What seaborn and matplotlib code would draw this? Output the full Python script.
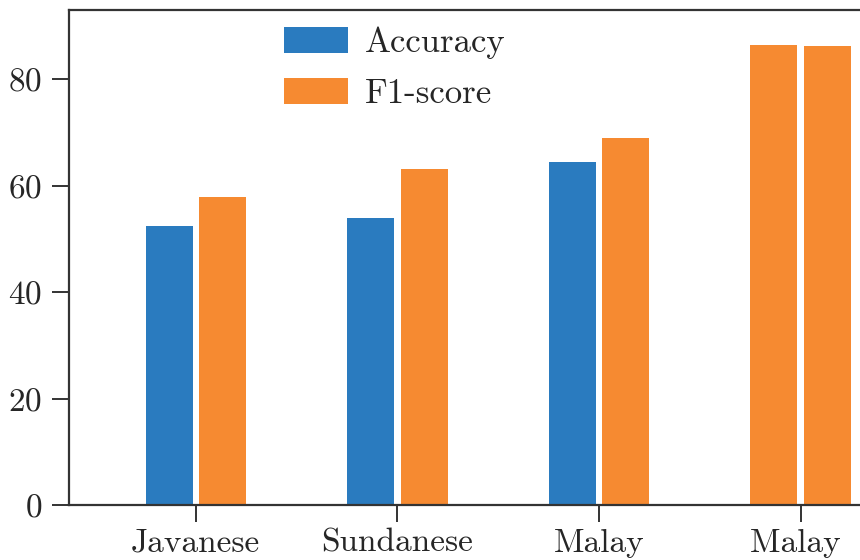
import seaborn as sns
import matplotlib.pyplot as plt
import pandas as pd

languages = ["Javanese", "Sundanese", "Malay", "Malay "]
accuracy = [52.4, 53.9, 64.4, 86.4]
f1_score = [57.8, 63.1, 68.9, 86.2]

df = pd.DataFrame({
    "Language": languages * 2,
    "Metric": ["Accuracy"] * 4 + ["F1-score"] * 4,
    "Value": accuracy + f1_score,
})

sns.set_style("ticks")
plt.rcParams["font.family"] = ["cmr10", "DejaVu Serif"]
plt.rcParams["axes.formatter.use_mathtext"] = True
plt.rcParams["mathtext.fontset"] = "cm"

blue, orange = "#2a7bbf", "#f68a31"

fig = plt.figure(figsize=(8.6, 5.6), dpi=100)
ax = fig.add_axes([0.080, 0.098, 0.98, 0.884])

sns.barplot(data=df, x="Language", y="Value", hue="Metric",
            palette=[blue, orange], width=0.53, gap=0.12,
            linewidth=0, saturation=1, ax=ax)

# the last group is drawn all in orange in the original
ax.containers[0].patches[3].set_facecolor(orange)

ax.set_xlim(-0.63, 3.55)
ax.set_ylim(0, 93)
ax.set_yticks([0, 20, 40, 60, 80])
ax.set_xlabel("")
ax.set_ylabel("")
ax.tick_params(labelsize=24, length=12, width=1.4, color="#333333")
ax.tick_params(axis="y", pad=7)
ax.tick_params(axis="x", pad=5)

for side in ["left", "bottom", "top"]:
    ax.spines[side].set_visible(True)
    ax.spines[side].set_linewidth(1.6)
    ax.spines[side].set_color("#333333")
ax.spines["right"].set_visible(False)

ax.legend(loc="upper left", bbox_to_anchor=(0.218, 1.03), frameon=False,
          fontsize=25, handlelength=1.84, handleheight=0.78,
          handletextpad=0.5, labelspacing=0.55)

fig.savefig("out.png", dpi=100)
